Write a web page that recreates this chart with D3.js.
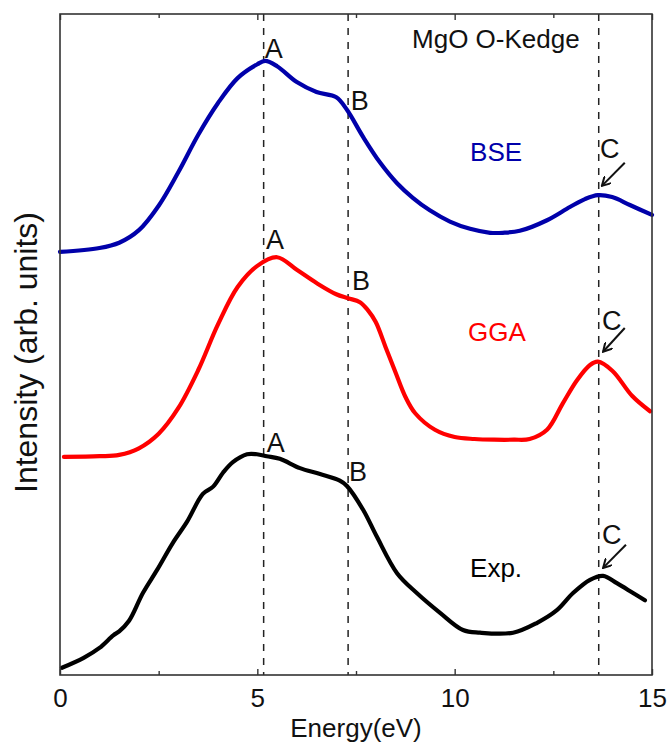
<!DOCTYPE html>
<html>
<head>
<meta charset="utf-8">
<script src="https://cdn.jsdelivr.net/npm/d3@7"></script>
<style>
  html, body { margin: 0; padding: 0; background: #fff; }
  svg { display: block; font-family: "Liberation Sans", Arial, Helvetica, sans-serif; }
</style>
</head>
<body>
<svg id="chart" width="669" height="744"></svg>
<script>
// ---- Data (energy in eV, intensity in arbitrary units, curves already offset) ----
const bseEnergy = [0, 1, 1.5, 2, 2.5, 3, 3.5, 4, 4.5, 5, 5.2, 5.5, 6, 6.5, 7, 7.27, 7.68, 8.1, 8.54, 8.94, 9.37, 9.88, 10.39, 10.9, 11.22, 11.65, 12.34, 12.92, 13.3, 13.63, 13.99, 14.44, 15];
const bseValue  = [64.0, 64.6, 65.4, 67.3, 71.0, 76.1, 81.7, 86.5, 90.3, 92.4, 92.9, 92.1, 89.7, 88.2, 87.4, 85.5, 81.4, 77.6, 74.4, 72.2, 70.3, 68.6, 67.5, 66.9, 66.9, 67.2, 68.8, 70.8, 72.0, 72.6, 72.3, 71.1, 69.6];

const ggaEnergy = [0.1, 1, 1.5, 2, 2.5, 3, 3.5, 4, 4.5, 5, 5.5, 6, 6.5, 7, 7.3, 7.6, 7.8, 8, 8.25, 8.5, 8.75, 9, 9.5, 10, 10.5, 11, 11.5, 11.9, 12.34, 12.74, 13.1, 13.43, 13.63, 14, 14.5, 14.95];
const ggaValue  = [33.0, 33.1, 33.3, 34.3, 36.5, 40.4, 46.1, 53.0, 58.7, 61.9, 63.2, 61.3, 59.3, 57.6, 57.0, 56.4, 55.2, 53.4, 49.6, 45.8, 42.1, 39.6, 37.1, 36.0, 35.7, 35.6, 35.6, 35.7, 37.1, 41.1, 44.6, 46.9, 47.4, 46.0, 42.2, 39.9];

const expEnergy = [0.05, 0.6, 1.0, 1.35, 1.5, 1.75, 2.1, 2.46, 2.86, 3.22, 3.62, 3.88, 4.13, 4.38, 4.74, 4.99, 5.24, 5.57, 6.08, 6.59, 7.09, 7.27, 7.68, 8.03, 8.54, 9.04, 9.63, 10.21, 10.64, 11.48, 12.09, 12.59, 13.0, 13.43, 13.76, 14.11, 14.52, 14.82];
const expValue  = [1.1, 2.6, 4.1, 6.0, 6.6, 8.2, 12.4, 15.9, 20.0, 23.2, 27.4, 28.5, 30.6, 32.2, 33.4, 33.4, 33.1, 32.7, 31.3, 30.4, 29.4, 28.6, 25.0, 20.9, 15.4, 12.4, 9.4, 6.8, 6.4, 6.4, 7.9, 9.8, 12.4, 14.4, 15.0, 13.9, 12.4, 11.3];

const majorTicks = [0, 5, 10, 15];
const minorTicks = [2.5, 7.5, 12.5];
const markerLines = [5.16, 7.3, 13.65];

const seriesNames = ["BSE", "GGA", "Exp."];
const seriesColors = ["#0000aa", "#ff0000", "#000000"];
const seriesLabelPos = [[10.39, 77.8], [10.34, 50.5], [10.39, 14.8]];

const peakText = ["A", "B", "C", "A", "B", "C", "A", "B", "C"];
const peakPos = [[5.19, 93.3], [7.37, 85.5], [13.68, 78.2],
                 [5.22, 64.4], [7.40, 58.2], [13.73, 52.2],
                 [5.24, 33.7], [7.32, 29.3], [13.73, 19.8]];
const arrowTail = [[14.31, 77.5], [14.31, 52.5], [14.34, 19.7]];
const arrowHead = [[13.73, 74.0], [13.76, 48.9], [13.76, 16.2]];

const titleText = "MgO O-Kedge";
const titlePos = [8.92, 94.9];

// ---- Layout ----
const svg = d3.select("#chart");
const plotLeft = 60, plotRight = 652, plotTop = 14, plotBottom = 675;

const x = d3.scaleLinear().domain([0, 15]).range([plotLeft, plotRight]);
const y = d3.scaleLinear().domain([0, 100]).range([plotBottom, plotTop]);

// dashed vertical lines
svg.append("g").selectAll("line").data(markerLines).join("line")
  .attr("x1", d => x(d)).attr("x2", d => x(d))
  .attr("y1", plotTop).attr("y2", plotBottom)
  .attr("stroke", "#222").attr("stroke-width", 1.5)
  .attr("stroke-dasharray", "7,7");

// curves
const series = [
  d3.zip(bseEnergy, bseValue),
  d3.zip(ggaEnergy, ggaValue),
  d3.zip(expEnergy, expValue)
];
const line = d3.line().x(d => x(d[0])).y(d => y(d[1])).curve(d3.curveCatmullRom.alpha(0.5));
svg.append("g").selectAll("path").data(series).join("path")
  .attr("d", line)
  .attr("fill", "none")
  .attr("stroke", (d, i) => seriesColors[i])
  .attr("stroke-width", 4.2)
  .attr("stroke-linejoin", "round")
  .attr("stroke-linecap", "round");

// frame
svg.append("rect")
  .attr("x", plotLeft).attr("y", plotTop)
  .attr("width", plotRight - plotLeft).attr("height", plotBottom - plotTop)
  .attr("fill", "none").attr("stroke", "#333").attr("stroke-width", 1.6);

// ticks (inward, bottom and top)
const xAxisBottom = d3.axisBottom(x).tickValues(majorTicks).tickSize(-6).tickFormat(d3.format("d")).tickPadding(14);
const gB = svg.append("g").attr("transform", `translate(0,${plotBottom})`).call(xAxisBottom);
gB.select(".domain").remove();
gB.selectAll(".tick line").attr("stroke", "#333").attr("stroke-width", 1.4);
gB.selectAll(".tick text").attr("font-size", 26).attr("fill", "#111")
  .attr("font-family", '"Liberation Sans", Arial, sans-serif');

const gBm = svg.append("g").attr("transform", `translate(0,${plotBottom})`)
  .call(d3.axisBottom(x).tickValues(minorTicks).tickSize(-4).tickFormat(""));
gBm.select(".domain").remove();
gBm.selectAll(".tick line").attr("stroke", "#333").attr("stroke-width", 1.4);

const gT = svg.append("g").attr("transform", `translate(0,${plotTop})`)
  .call(d3.axisTop(x).tickValues(majorTicks).tickSize(-6).tickFormat(""));
gT.select(".domain").remove();
gT.selectAll(".tick line").attr("stroke", "#333").attr("stroke-width", 1.4);
const gTm = svg.append("g").attr("transform", `translate(0,${plotTop})`)
  .call(d3.axisTop(x).tickValues(minorTicks).tickSize(-4).tickFormat(""));
gTm.select(".domain").remove();
gTm.selectAll(".tick line").attr("stroke", "#333").attr("stroke-width", 1.4);

// axis titles
svg.append("text")
  .attr("x", (plotLeft + plotRight) / 2).attr("y", 737)
  .attr("text-anchor", "middle").attr("font-size", 26).attr("fill", "#111")
  .text("Energy(eV)");
svg.append("text")
  .attr("transform", `translate(37,${(plotTop + plotBottom) / 2 + 8}) rotate(-90)`)
  .attr("text-anchor", "middle").attr("font-size", 32).attr("fill", "#111")
  .text("Intensity (arb. units)");

// title
svg.append("text")
  .attr("x", x(titlePos[0])).attr("y", y(titlePos[1]))
  .attr("font-size", 26).attr("fill", "#111")
  .text(titleText);

// series labels
svg.append("g").selectAll("text").data(seriesNames).join("text")
  .attr("x", (d, i) => x(seriesLabelPos[i][0]))
  .attr("y", (d, i) => y(seriesLabelPos[i][1]))
  .attr("font-size", 26)
  .attr("fill", (d, i) => seriesColors[i])
  .text(d => d);

// peak labels
svg.append("g").selectAll("text").data(peakText).join("text")
  .attr("x", (d, i) => x(peakPos[i][0]))
  .attr("y", (d, i) => y(peakPos[i][1]))
  .attr("font-size", 27)
  .attr("fill", "#111")
  .text(d => d);

// arrows
svg.append("defs").append("marker")
  .attr("id", "arr").attr("viewBox", "0 0 10 10")
  .attr("refX", 9).attr("refY", 5)
  .attr("markerWidth", 10).attr("markerHeight", 10)
  .attr("markerUnits", "userSpaceOnUse")
  .attr("orient", "auto")
  .append("path").attr("d", "M0,0 L9,5 L0,10")
  .attr("fill", "none").attr("stroke", "#111").attr("stroke-width", 2);

svg.append("g").selectAll("line").data(arrowTail).join("line")
  .attr("x1", d => x(d[0])).attr("y1", d => y(d[1]))
  .attr("x2", (d, i) => x(arrowHead[i][0])).attr("y2", (d, i) => y(arrowHead[i][1]))
  .attr("stroke", "#111").attr("stroke-width", 2)
  .attr("marker-end", "url(#arr)");
</script>
</body>
</html>
